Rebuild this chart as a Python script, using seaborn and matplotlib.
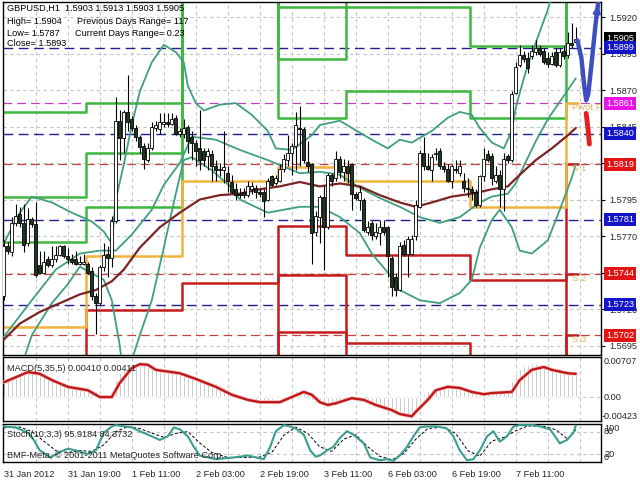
import numpy as np
import pandas as pd
import matplotlib
matplotlib.use("Agg")
import matplotlib.pyplot as plt
from matplotlib.transforms import blended_transform_factory
import seaborn as sns

# GBPUSD H1, bar 0 = 31 Jan 2012 03:00
opens = [1.5729, 1.5763, 1.5759, 1.5779, 1.5785, 1.5779, 1.5765, 1.5782, 1.5778, 1.5750,
         1.5745, 1.5754, 1.5750, 1.5754, 1.5757, 1.5763, 1.5756, 1.5754, 1.5754, 1.5751,
         1.5751, 1.5751, 1.5746, 1.5729, 1.5724, 1.5749, 1.5758, 1.5755, 1.5780, 1.5849,
         1.5837, 1.5855, 1.5850, 1.5844, 1.5838, 1.5832, 1.5822, 1.5830, 1.5844, 1.5843,
         1.5847, 1.5848, 1.5847, 1.5851, 1.5840, 1.5840, 1.5845, 1.5838, 1.5834, 1.5830,
         1.5828, 1.5825, 1.5826, 1.5818, 1.5815, 1.5815, 1.5813, 1.5807, 1.5802, 1.5799,
         1.5800, 1.5798, 1.5802, 1.5803, 1.5800, 1.5800, 1.5795, 1.5811, 1.5806, 1.5808,
         1.5816, 1.5822, 1.5827, 1.5832, 1.5844, 1.5843, 1.5821, 1.5819, 1.5773, 1.5783,
         1.5797, 1.5776, 1.5812, 1.5810, 1.5823, 1.5814, 1.5818, 1.5819, 1.5799, 1.5795,
         1.5795, 1.5773, 1.5779, 1.5770, 1.5772, 1.5776, 1.5776, 1.5755, 1.5742, 1.5733,
         1.5764, 1.5758, 1.5758, 1.5770, 1.5790, 1.5827, 1.5818, 1.5815, 1.5826, 1.5828,
         1.5818, 1.5816, 1.5808, 1.5816, 1.5813, 1.5808, 1.5803, 1.5802, 1.5800, 1.5791,
         1.5811, 1.5826, 1.5825, 1.5808, 1.5812, 1.5802, 1.5825, 1.5822, 1.5868, 1.5887,
         1.5894, 1.5892, 1.5893, 1.5896, 1.5899, 1.5897, 1.5892, 1.5888, 1.5896, 1.5887,
         1.5897, 1.5894, 1.5902, 1.5903]
highs = [1.5767, 1.5766, 1.5783, 1.5792, 1.5790, 1.5792, 1.5789, 1.5783, 1.5793, 1.5760,
         1.5760, 1.5756, 1.5763, 1.5763, 1.5764, 1.5764, 1.5762, 1.5758, 1.5760, 1.5756,
         1.5758, 1.5752, 1.5749, 1.5731, 1.5750, 1.5765, 1.5763, 1.5784, 1.5865, 1.5856,
         1.5856, 1.5880, 1.5852, 1.5846, 1.5839, 1.5834, 1.5834, 1.5848, 1.5849, 1.5854,
         1.5854, 1.5854, 1.5854, 1.5853, 1.5844, 1.5850, 1.5846, 1.5842, 1.5836, 1.5856,
         1.5830, 1.5830, 1.5829, 1.5822, 1.5820, 1.5842, 1.5818, 1.5812, 1.5806, 1.5803,
         1.5803, 1.5808, 1.5807, 1.5805, 1.5802, 1.5802, 1.5810, 1.5812, 1.5812, 1.5819,
         1.5826, 1.5839, 1.5834, 1.5855, 1.5859, 1.5845, 1.5835, 1.5820, 1.5787, 1.5798,
         1.5804, 1.5813, 1.5813, 1.5828, 1.5825, 1.5823, 1.5822, 1.5820, 1.5800, 1.5804,
         1.5796, 1.5780, 1.5780, 1.5779, 1.5781, 1.5781, 1.5777, 1.5756, 1.5745, 1.5766,
         1.5767, 1.5770, 1.5771, 1.5795, 1.5829, 1.5838, 1.5827, 1.5826, 1.5830, 1.5830,
         1.5821, 1.5819, 1.5819, 1.5822, 1.5822, 1.5813, 1.5810, 1.5804, 1.5802, 1.5812,
         1.5830, 1.5829, 1.5827, 1.5818, 1.5815, 1.5827, 1.5826, 1.5869, 1.5889, 1.5901,
         1.5897, 1.5896, 1.5901, 1.5904, 1.5901, 1.5899, 1.5896, 1.5896, 1.5899, 1.5899,
         1.5901, 1.5910, 1.5916, 1.5913]
lows = [1.5726, 1.5758, 1.5756, 1.5777, 1.5776, 1.5759, 1.5763, 1.5776, 1.5742, 1.5744,
        1.5744, 1.5749, 1.5749, 1.5752, 1.5756, 1.5755, 1.5751, 1.5751, 1.5750, 1.5750,
        1.5750, 1.5744, 1.5726, 1.5703, 1.5723, 1.5746, 1.5742, 1.5749, 1.5779, 1.5822,
        1.5827, 1.5842, 1.5842, 1.5835, 1.5827, 1.5816, 1.5821, 1.5829, 1.5842, 1.5840,
        1.5845, 1.5845, 1.5846, 1.5839, 1.5838, 1.5837, 1.5827, 1.5822, 1.5818, 1.5815,
        1.5818, 1.5815, 1.5808, 1.5808, 1.5811, 1.5806, 1.5800, 1.5799, 1.5795, 1.5796,
        1.5796, 1.5797, 1.5799, 1.5796, 1.5797, 1.5783, 1.5794, 1.5804, 1.5805, 1.5807,
        1.5814, 1.5818, 1.5812, 1.5815, 1.5818, 1.5820, 1.5814, 1.5751, 1.5770, 1.5765,
        1.5747, 1.5775, 1.5804, 1.5808, 1.5810, 1.5808, 1.5806, 1.5788, 1.5795, 1.5788,
        1.5773, 1.5771, 1.5767, 1.5768, 1.5764, 1.5771, 1.5742, 1.5729, 1.5729, 1.5732,
        1.5756, 1.5742, 1.5757, 1.5767, 1.5789, 1.5815, 1.5815, 1.5808, 1.5822, 1.5816,
        1.5814, 1.5807, 1.5803, 1.5813, 1.5811, 1.5800, 1.5797, 1.5795, 1.5790, 1.5790,
        1.5808, 1.5821, 1.5805, 1.5806, 1.5790, 1.5787, 1.5820, 1.5821, 1.5867, 1.5886,
        1.5889, 1.5882, 1.5891, 1.5894, 1.5893, 1.5888, 1.5886, 1.5887, 1.5886, 1.5886,
        1.5891, 1.5892, 1.5899, 1.5903]
closes = [1.5763, 1.5760, 1.5779, 1.5784, 1.5779, 1.5764, 1.5782, 1.5778, 1.5743, 1.5745,
          1.5752, 1.5750, 1.5754, 1.5757, 1.5763, 1.5756, 1.5754, 1.5752, 1.5751, 1.5752,
          1.5752, 1.5745, 1.5729, 1.5724, 1.5749, 1.5757, 1.5755, 1.5780, 1.5849, 1.5837,
          1.5855, 1.5848, 1.5844, 1.5838, 1.5831, 1.5823, 1.5830, 1.5845, 1.5846, 1.5848,
          1.5848, 1.5847, 1.5850, 1.5840, 1.5842, 1.5844, 1.5835, 1.5834, 1.5828, 1.5822,
          1.5822, 1.5828, 1.5818, 1.5815, 1.5816, 1.5817, 1.5808, 1.5800, 1.5798, 1.5798,
          1.5798, 1.5804, 1.5804, 1.5800, 1.5799, 1.5794, 1.5808, 1.5805, 1.5810, 1.5816,
          1.5823, 1.5827, 1.5832, 1.5846, 1.5843, 1.5822, 1.5818, 1.5772, 1.5784, 1.5797,
          1.5776, 1.5812, 1.5808, 1.5823, 1.5814, 1.5818, 1.5813, 1.5799, 1.5796, 1.5800,
          1.5774, 1.5776, 1.5771, 1.5773, 1.5776, 1.5773, 1.5756, 1.5735, 1.5733, 1.5763,
          1.5758, 1.5768, 1.5768, 1.5791, 1.5827, 1.5818, 1.5816, 1.5824, 1.5827, 1.5818,
          1.5816, 1.5808, 1.5818, 1.5815, 1.5818, 1.5803, 1.5802, 1.5800, 1.5791, 1.5811,
          1.5823, 1.5822, 1.5810, 1.5812, 1.5802, 1.5823, 1.5822, 1.5867, 1.5886, 1.5894,
          1.5891, 1.5885, 1.5897, 1.5899, 1.5895, 1.5889, 1.5888, 1.5893, 1.5887, 1.5896,
          1.5893, 1.5902, 1.5901, 1.5905]

# Bollinger bands (20) and slow MA
bb_up_bar = [0, 4, 7, 12, 17, 22, 25, 27, 28, 30, 32, 34, 37, 40, 43, 45, 46, 48, 50, 54, 58, 62,
             66, 68, 72, 77, 79, 84, 87, 92, 96, 99, 102, 107, 111, 114, 117, 119, 122, 125, 127,
             128, 130, 132, 134, 136, 137]
bb_up = [1.5765, 1.5786, 1.5797, 1.5793, 1.5786, 1.5780, 1.5773, 1.5765, 1.5795, 1.5819, 1.5846,
         1.5869, 1.5889, 1.5901, 1.5896, 1.5889, 1.5873, 1.5861, 1.5856, 1.5860, 1.5861, 1.5853,
         1.5842, 1.5830, 1.5829, 1.5839, 1.5846, 1.5849, 1.5844, 1.5836, 1.5830, 1.5836, 1.5834,
         1.5842, 1.5851, 1.5855, 1.5853, 1.5844, 1.5834, 1.5830, 1.5842, 1.5858, 1.5878, 1.5895,
         1.5910, 1.5925, 1.5935]
bb_mid_bar = [0, 7, 13, 19, 24, 28, 32, 37, 40, 44, 47, 53, 59, 66, 74, 79, 84, 89, 94, 99, 104,
              109, 114, 119, 122, 126, 128, 130, 133, 136, 140, 143]
bb_mid = [1.5701, 1.5726, 1.5747, 1.5758, 1.5760, 1.5760, 1.5771, 1.5788, 1.5805, 1.5820, 1.5838,
          1.5836, 1.5829, 1.5822, 1.5813, 1.5814, 1.5812, 1.5803, 1.5796, 1.5790, 1.5783, 1.5779,
          1.5783, 1.5793, 1.5797, 1.5799, 1.5806, 1.5818, 1.5835, 1.5850, 1.5866, 1.5878]
bb_low_bar = [0, 7, 12, 16, 19, 23, 25, 27, 29, 30, 32, 34, 37, 40, 43, 45, 47, 52, 57, 59, 66,
              74, 79, 84, 89, 92, 96, 99, 104, 109, 114, 117, 119, 122, 124, 127, 129, 132, 136,
              139, 142, 143]
bb_low = [1.5644, 1.5702, 1.5724, 1.5737, 1.5749, 1.5743, 1.5740, 1.5726, 1.5695, 1.5671, 1.5685,
          1.5702, 1.5726, 1.5762, 1.5799, 1.5822, 1.5824, 1.5815, 1.5803, 1.5795, 1.5786, 1.5790,
          1.5790, 1.5783, 1.5772, 1.5758, 1.5745, 1.5733, 1.5726, 1.5724, 1.5731, 1.5740, 1.5762,
          1.5781, 1.5788, 1.5776, 1.5760, 1.5758, 1.5767, 1.5788, 1.5810, 1.5819]
ma_bar = [0, 4, 9, 14, 19, 23, 27, 30, 34, 39, 44, 49, 54, 59, 64, 69, 74, 79, 84, 89, 94, 99,
          103, 107, 112, 117, 122, 126, 129, 133, 137, 141, 143]
ma = [1.5699, 1.5710, 1.5718, 1.5724, 1.5730, 1.5733, 1.5739, 1.5747, 1.5762, 1.5776, 1.5786,
      1.5795, 1.5798, 1.5799, 1.5802, 1.5804, 1.5807, 1.5804, 1.5806, 1.5804, 1.5798, 1.5793,
      1.5790, 1.5793, 1.5797, 1.5799, 1.5802, 1.5804, 1.5812, 1.5822, 1.5830, 1.5839, 1.5844]

# daily pivot levels, one value per session segment
seg_start = [0, 21, 45, 69, 86, 117, 141]
piv_p = [1.5708, 1.5756, 1.5808, 1.5817, 1.5808, 1.5790, 1.5861]
piv_r1 = [1.5766, 1.5790, 1.5945, 1.5851, 1.5869, 1.5851, 1.5935]
piv_r2 = [1.5797, 1.5827, 1.5984, 1.5891, 1.5927, 1.5900, 1.5978]
piv_r3 = [1.5855, 1.5861, 1.6021, 1.5927, 1.5980, 1.5962, 1.6052]
piv_s1 = [1.5677, 1.5719, 1.5738, 1.5777, 1.5757, 1.5740, 1.5819]
piv_s2 = [1.5619, 1.5684, 1.5632, 1.5743, 1.5697, 1.5679, 1.5744]
piv_s3 = [1.5588, 1.5647, 1.5562, 1.5704, 1.5645, 1.5630, 1.5702]

mid_levels = [1.5899, 1.5840, 1.5781, 1.5723]
sup_levels = [1.5819, 1.5744, 1.5702]
pivot_level = 1.5861
last_price = 1.5905

# forecast arrows past the last bar
fc_up_bar = [143.4, 144.4, 145.1, 145.6, 146.1, 146.9, 147.9, 148.6]
fc_up = [1.5904, 1.5892, 1.5873, 1.5863, 1.5867, 1.5887, 1.5914, 1.5930]
fc_dn_bar = [145.6, 146.1, 146.4]
fc_dn = [1.5854, 1.5842, 1.5833]

# MACD(5,35,5)
macd_hist = [0.0026, 0.0029, 0.0032, 0.0035, 0.0038, 0.0039, 0.0042, 0.0042, 0.0040, 0.0039,
             0.0038, 0.0035, 0.0034, 0.0030, 0.0028, 0.0026, 0.0022, 0.0020, 0.0019, 0.0018,
             0.0018, 0.0016, 0.0013, 0.0010, 0.0006, 0.0005, 0.0002, 0.0006, 0.0030, 0.0042,
             0.0050, 0.0056, 0.0060, 0.0061, 0.0060, 0.0058, 0.0056, 0.0054, 0.0050, 0.0048,
             0.0046, 0.0045, 0.0044, 0.0043, 0.0042, 0.0040, 0.0038, 0.0037, 0.0035, 0.0034,
             0.0032, 0.0030, 0.0027, 0.0025, 0.0022, 0.0018, 0.0014, 0.0011, 0.0008, 0.0005,
             0.0002, -0.0002, -0.0003, -0.0005, -0.0006, -0.0008, -0.0007, -0.0005, -0.0003, -0.0002,
             0.0000, 0.0002, 0.0005, 0.0010, 0.0012, 0.0010, 0.0006, -0.0005, -0.0010, -0.0014,
             -0.0016, -0.0014, -0.0013, -0.0010, -0.0006, -0.0005, -0.0003, -0.0002, -0.0002, -0.0004,
             -0.0007, -0.0010, -0.0012, -0.0014, -0.0016, -0.0019, -0.0023, -0.0028, -0.0032, -0.0034,
             -0.0034, -0.0032, -0.0030, -0.0024, -0.0011, 0.0005, 0.0010, 0.0014, 0.0016, 0.0018,
             0.0018, 0.0017, 0.0016, 0.0016, 0.0014, 0.0013, 0.0011, 0.0010, 0.0007, 0.0007,
             0.0008, 0.0009, 0.0009, 0.0008, 0.0007, 0.0010, 0.0012, 0.0029, 0.0042, 0.0050,
             0.0054, 0.0057, 0.0059, 0.0060, 0.0058, 0.0055, 0.0051, 0.0048, 0.0046, 0.0045,
             0.0044, 0.0043, 0.0043, 0.0041]
macd_sig_bar = [0, 6, 9, 12, 16, 21, 24, 27, 29, 32, 34, 36, 38, 42, 44, 48, 53, 57, 61, 64, 69,
                72, 75, 77, 79, 81, 83, 87, 90, 93, 97, 99, 102, 103, 106, 108, 111, 114, 117, 120,
                122, 127, 129, 132, 135, 137, 141, 143]
macd_sig = [0.0026, 0.0044, 0.0041, 0.0030, 0.0018, 0.0012, 0.0000, 0.0000, 0.0025, 0.0051,
            0.0058, 0.0057, 0.0048, 0.0044, 0.0042, 0.0032, 0.0018, 0.0004, -0.0005, -0.0009,
            -0.0009, 0.0000, 0.0009, 0.0004, -0.0009, -0.0014, -0.0011, -0.0002, -0.0005, -0.0014,
            -0.0023, -0.0030, -0.0034, -0.0026, -0.0005, 0.0012, 0.0018, 0.0016, 0.0009, 0.0005,
            0.0007, 0.0009, 0.0030, 0.0048, 0.0053, 0.0048, 0.0042, 0.0041]

# Stochastic(10,3,3)
sto_bar = [0, 3, 6, 7.5, 9, 11.6, 14, 16, 18, 21, 23, 25, 27, 28, 32, 34, 37, 39, 41, 42.5, 44,
           46, 47.5, 49, 53, 57.5, 61, 63, 65, 66.6, 68, 70, 71.6, 73, 75, 76.6, 78, 79, 80.8,
           82.4, 84, 85.8, 87.4, 90, 91.6, 94, 95.8, 97.4, 99, 100.8, 102.4, 104, 105.8, 108.3,
           110.8, 112.4, 114, 115.8, 117.4, 119, 120.8, 122.4, 124, 125.8, 127.4, 129, 132.5, 134,
           136.6, 139, 140.8, 142.4, 143]
sto_main = [93.5, 90.7, 76.8, 58, 30.5, 12, 26, 35, 30.5, 21, 30.5, 77, 93.5, 97, 91, 81, 67.5,
            58, 67.5, 91, 86, 67.5, 40, 17, 7.5, 12, 17, 12, 7.5, 40, 81, 97, 93.5, 88, 72, 30.5,
            14, 17, 30.5, 40, 63, 81, 72, 49, 12, 4.6, 7.5, 3, 17, 40, 67.5, 91, 93.5, 93.5, 88,
            67.5, 30.5, 4.6, 7.5, 30.5, 67.5, 81, 53.6, 67.5, 93.5, 97, 97, 93.5, 86, 49, 58, 77,
            95.9]
sto_sig_bar = [0, 4, 7, 10, 13, 16, 19, 22, 25, 28, 31, 34, 37, 40, 43, 46, 49, 52, 56, 60, 64,
               67, 70, 73, 76, 79, 82, 85, 88, 91, 94, 97, 100, 103, 106, 110, 113, 116, 119, 122,
               125, 128, 131, 135, 138, 141, 143]
sto_sig = [90, 92, 80, 55, 30, 25, 30, 28, 45, 80, 93, 88, 76, 65, 75, 80, 50, 25, 12, 12, 13,
           25, 70, 92, 75, 40, 28, 60, 72, 40, 15, 6, 22, 60, 88, 92, 75, 30, 15, 55, 65, 82,
           95, 94, 85, 60, 84.4]

time_labels = ["31 Jan 2012", "31 Jan 19:00", "1 Feb 11:00", "2 Feb 03:00", "2 Feb 19:00",
               "3 Feb 11:00", "6 Feb 03:00", "6 Feb 19:00", "7 Feb 11:00"]
price_ticks = [1.5695, 1.5720, 1.5745, 1.5770, 1.5795, 1.5820, 1.5845, 1.5870, 1.5895, 1.5920]
hidden_ticks = [1.5745, 1.5820]   # fully covered by the level boxes

GREEN = "#3db83d"
ORANGE = "#f0b43c"
RED = "#c81c1c"
TEAL = "#3f9f80"
GRID = "#c4c4c4"

sns.set_theme(style="white")
plt.rcParams["font.family"] = ["Liberation Sans", "DejaVu Sans"]
plt.rcParams["axes.edgecolor"] = "black"
plt.rcParams["axes.linewidth"] = 1.0

W, H = 640, 480
fig = plt.figure(figsize=(6.4, 4.8), dpi=100)
fig.set_facecolor("white")


def panel(top, bottom):
    return fig.add_axes([3 / W, 1 - bottom / H, 598 / W, (bottom - top) / H])


ax = panel(2, 355)
ax_macd = panel(357, 421)
ax_sto = panel(424, 462)
XLIM = (-0.2, 149.3)
grid_bars = list(range(8, 150, 8))

for a in (ax, ax_macd, ax_sto):
    a.set_xlim(*XLIM)
    a.set_facecolor("white")
    for b in grid_bars:
        a.axvline(b, color=GRID, lw=0.8, ls=(0, (3, 3)), zorder=0)
    a.tick_params(axis="both", which="both", length=0, labelsize=6.6, pad=3)
    a.set_xticks([])
    a.set_xlabel("")
    a.set_ylabel("")

# ---- main price panel ----
ax.set_ylim(1.56885, 1.59303)
for p in price_ticks:
    ax.axhline(p, color=GRID, lw=0.8, ls=(0, (3, 3)), zorder=0)
for p in mid_levels:
    ax.axhline(p, color="#20208c", lw=1.0, ls=(0, (7, 4)), zorder=1)
for p in sup_levels:
    ax.axhline(p, color="#c84040", lw=0.9, ls=(0, (7, 4)), zorder=1)
ax.axhline(pivot_level, color="#c040c0", lw=0.9, ls=(0, (7, 4)), zorder=1)

step_x = [s - 0.5 for s in seg_start] + [143.5]
for levels, colour in [(piv_r3, GREEN), (piv_r2, GREEN), (piv_r1, GREEN),
                       (piv_s1, RED), (piv_s2, RED), (piv_s3, RED), (piv_p, ORANGE)]:
    ax.plot(step_x, levels + [levels[-1]], drawstyle="steps-post", color=colour,
            lw=1.8, zorder=2)

sns.lineplot(x=bb_up_bar, y=bb_up, ax=ax, color=TEAL, lw=1.3, zorder=3)
sns.lineplot(x=bb_mid_bar, y=bb_mid, ax=ax, color=TEAL, lw=1.3, zorder=3)
sns.lineplot(x=bb_low_bar, y=bb_low, ax=ax, color=TEAL, lw=1.3, zorder=3)
sns.lineplot(x=ma_bar, y=ma, ax=ax, color="#7a2424", lw=1.6, zorder=3)

df = pd.DataFrame({"bar": np.arange(len(closes)), "open": opens, "high": highs,
                   "low": lows, "close": closes})
up = df["close"] >= df["open"]
body = (df["close"] - df["open"]).abs().clip(lower=0.00004)
bottom = df[["open", "close"]].min(axis=1)
ax.vlines(df["bar"], df["low"], df["high"], color="black", lw=0.8, zorder=5)
ax.bar(df["bar"][up], body[up], bottom=bottom[up], width=0.72, color="white",
       edgecolor="black", lw=0.6, zorder=6)
ax.bar(df["bar"][~up], body[~up], bottom=bottom[~up], width=0.72, color="#1f3a1f",
       edgecolor="black", lw=0.6, zorder=6)

sns.lineplot(x=fc_up_bar, y=fc_up, ax=ax, color="#3d4fc0", lw=3.2, zorder=7, sort=False)
ax.annotate("", xy=(fc_up_bar[-1], fc_up[-1]), xytext=(fc_up_bar[-2], fc_up[-2]),
            arrowprops=dict(arrowstyle="-|>", color="#3d4fc0", lw=2, mutation_scale=10),
            zorder=7)
sns.lineplot(x=fc_dn_bar, y=fc_dn, ax=ax, color="#e02020", lw=3.5, zorder=7, sort=False)

for label, level in [("Pivot P", pivot_level), ("S 1", sup_levels[0]),
                     ("S 2", sup_levels[1]), ("S 3", sup_levels[2])]:
    ax.text(142.0, level, label, color="#e6b45a", fontsize=6.8, va="top", zorder=8,
            clip_on=True)

ax.yaxis.tick_right()
ax.set_yticks(price_ticks)
ax.set_yticklabels(["" if p in hidden_ticks else f"{p:.4f}" for p in price_ticks])
ax.tick_params(axis="y", length=3, width=0.8, color="black", pad=3)

trans = blended_transform_factory(ax.transAxes, ax.transData)
boxes = [(last_price, "black")] + [(p, "#1414c8") for p in mid_levels] + \
        [(p, "#e01414") for p in sup_levels] + [(pivot_level, "#e614e6")]
for value, colour in boxes:
    ax.text(1.0 + 5 / 598, value, f"{value:.4f}", transform=trans, color="white",
            fontsize=6.6, va="center", ha="left", clip_on=False, zorder=10,
            bbox=dict(boxstyle="square,pad=0.22", fc=colour, ec="none"))

hdr = dict(fontsize=6.6, color="black", ha="left", va="center")
fig.text(7 / W, 1 - 8 / H, "GBPUSD,H1  1.5903 1.5913 1.5903 1.5905", **hdr)
fig.text(7 / W, 1 - 21.5 / H, "High= 1.5904", **hdr)
fig.text(77 / W, 1 - 21.5 / H, "Previous Days Range= 117", **hdr)
fig.text(7 / W, 1 - 33 / H, "Low= 1.5787", **hdr)
fig.text(75 / W, 1 - 33 / H, "Current Days Range= 0.23", **hdr)
fig.text(7 / W, 1 - 44 / H, "Close= 1.5893", **hdr)

# ---- MACD panel ----
ax_macd.set_ylim(-0.00423, 0.00707)
ax_macd.axhline(0, color=GRID, lw=0.8, ls=(0, (3, 3)), zorder=0)
ax_macd.bar(np.arange(len(macd_hist)), macd_hist, width=0.38, color="#aaaaaa", zorder=2)
sns.lineplot(x=macd_sig_bar, y=macd_sig, ax=ax_macd, color="#f4c8c8", lw=2.8, zorder=3)
sns.lineplot(x=macd_sig_bar, y=macd_sig, ax=ax_macd, color="#c01818", lw=1.7, zorder=4)
ax_macd.set_yticks([])
tm = blended_transform_factory(ax_macd.transAxes, ax_macd.transData)
ax_macd.text(1.0 + 3 / 598, 0.00707, "0.00707", transform=tm, fontsize=6.6, va="top",
             clip_on=False)
ax_macd.text(1.0 + 3 / 598, 0.0, "0.00", transform=tm, fontsize=6.6, va="center",
             clip_on=False)
ax_macd.text(1.0 + 1 / 598, -0.00423, "-0.00423", transform=tm, fontsize=6.6, va="bottom",
             clip_on=False)
ax_macd.text(4 / 598, 0.82, "MACD(5,35,5) 0.00410 0.00411", transform=ax_macd.transAxes,
             fontsize=6.6, va="center", zorder=6)

# ---- Stochastic panel ----
ax_sto.set_ylim(0, 100)
for lvl in (80, 20):
    ax_sto.axhline(lvl, color=GRID, lw=0.8, ls=(0, (3, 3)), zorder=0)
sns.lineplot(x=sto_sig_bar, y=sto_sig, ax=ax_sto, color="black", lw=0.7,
             ls=(0, (3, 2)), zorder=3)
sns.lineplot(x=sto_bar, y=sto_main, ax=ax_sto, color="#3a9e90", lw=1.5, zorder=4)
ax_sto.set_yticks([])
ts = blended_transform_factory(ax_sto.transAxes, ax_sto.transData)
for val, txt, va in [(100, "100", "top"), (80, "80", "center"), (20, "20", "center"),
                     (0, "0", "bottom")]:
    ax_sto.text(1.0 + 3 / 598, val, txt, transform=ts, fontsize=6.6, va=va, clip_on=False)
ax_sto.text(4 / 598, 0.72, "Stoch(10,3,3) 95.9184 84.3732", transform=ax_sto.transAxes,
            fontsize=6.6, va="center", zorder=6)
ax_sto.text(4 / 598, 0.17, "BMF-Meta, \u00a9 2001-2011 MetaQuotes Software Corp.",
            transform=ax_sto.transAxes, fontsize=6.6, va="center", zorder=6)

ax_sto.set_xticks(np.arange(len(time_labels)) * 16)
ax_sto.set_xticklabels(time_labels, ha="left", fontsize=6.6)
ax_sto.tick_params(axis="x", length=4, width=0.8, color="black", pad=2)

fig.savefig("out.png", dpi=100, facecolor="white")
